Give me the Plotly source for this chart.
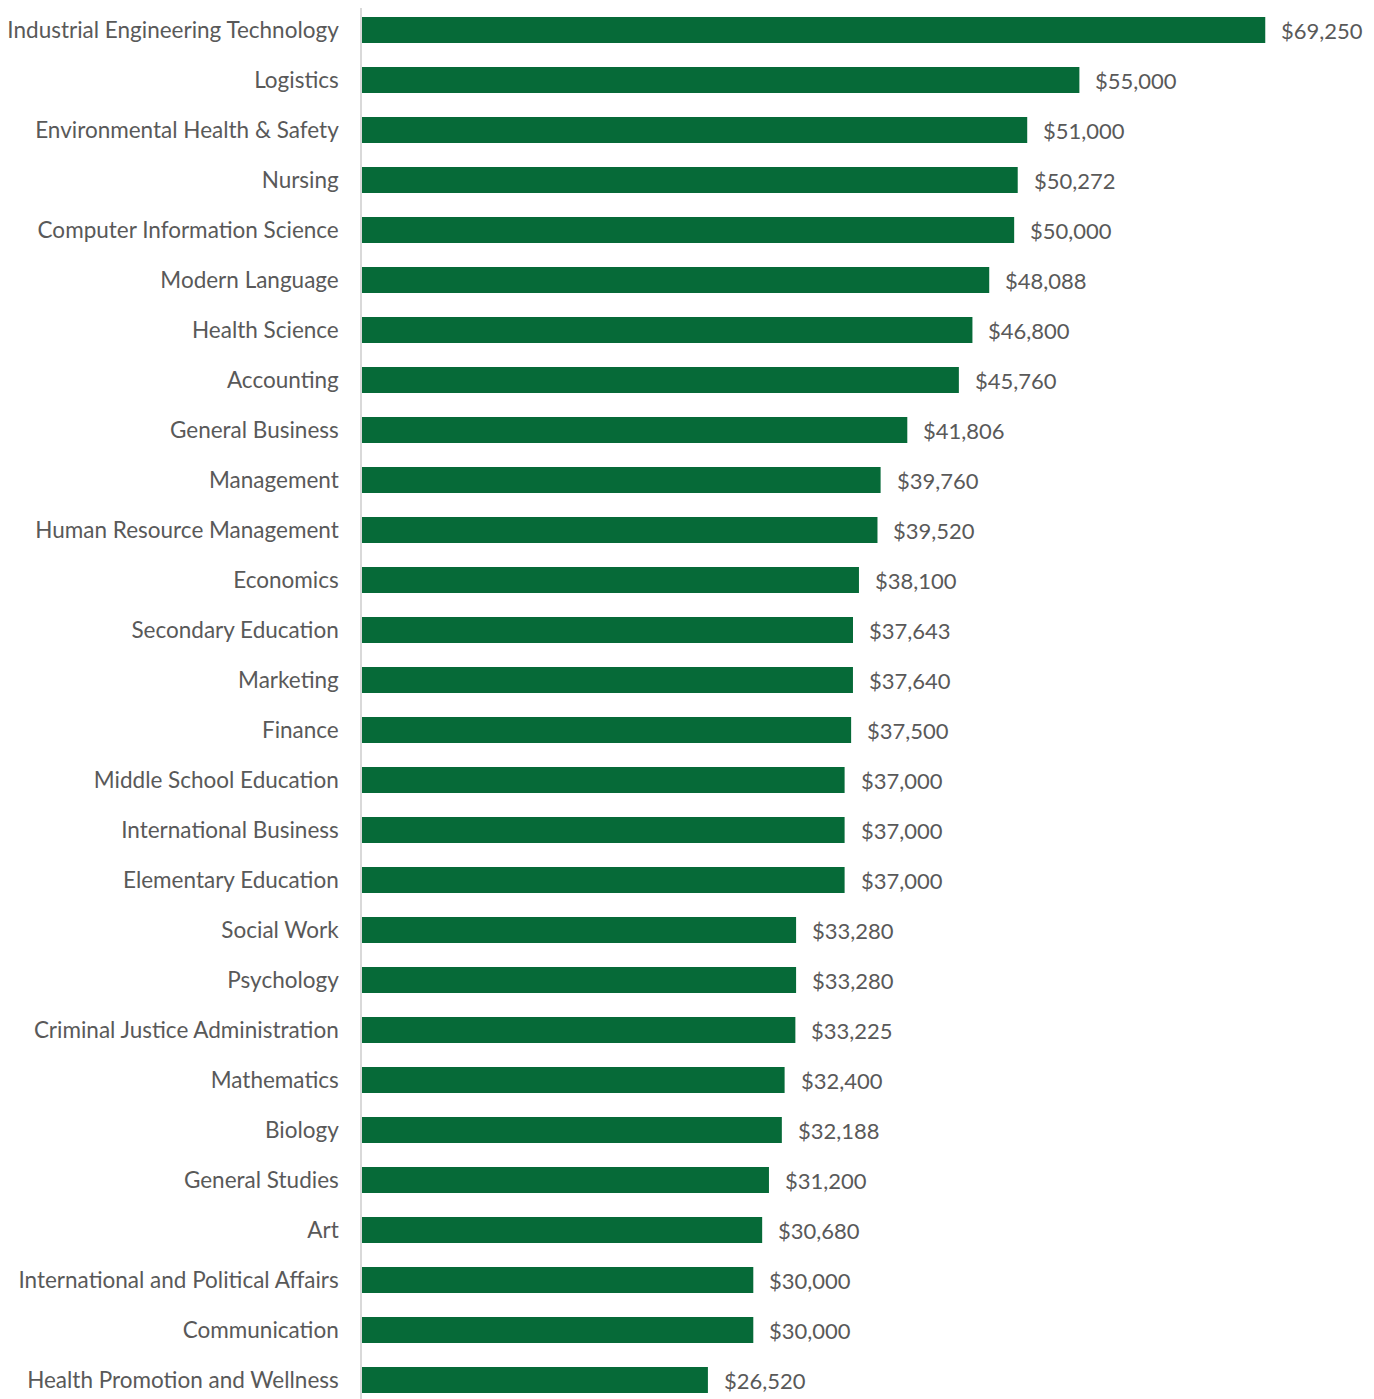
import plotly.graph_objects as go

categories = [
    "Industrial Engineering Technology", "Logistics", "Environmental Health & Safety",
    "Nursing", "Computer Information Science", "Modern Language", "Health Science",
    "Accounting", "General Business", "Management", "Human Resource Management",
    "Economics", "Secondary Education", "Marketing", "Finance", "Middle School Education",
    "International Business", "Elementary Education", "Social Work", "Psychology",
    "Criminal Justice Administration", "Mathematics", "Biology", "General Studies", "Art",
    "International and Political Affairs", "Communication", "Health Promotion and Wellness",
]
salaries = [
    69250, 55000, 51000, 50272, 50000, 48088, 46800, 45760, 41806, 39760, 39520,
    38100, 37643, 37640, 37500, 37000, 37000, 37000, 33280, 33280, 33225, 32400,
    32188, 31200, 30680, 30000, 30000, 26520,
]
value_labels = ["${:,}".format(v) for v in salaries]

GREEN = "#066A38"
GREY = "#595959"
FONT = "Lato"
FSIZE = 22

fig = go.Figure(go.Bar(
    x=salaries, y=categories, orientation="h",
    marker=dict(color=GREEN, line=dict(width=0)),
    width=0.52, hoverinfo="skip",
))

for cat, val, lab in zip(categories, salaries, value_labels):
    fig.add_annotation(
        x=val, y=cat, text=lab, showarrow=False, xanchor="left", yanchor="middle",
        xshift=14, font=dict(family=FONT, size=FSIZE, color=GREY),
    )

fig.update_layout(
    width=1366, height=1391,
    margin=dict(l=354, r=7, t=0, b=0),
    plot_bgcolor="white", paper_bgcolor="white",
    showlegend=False,
    font=dict(family=FONT, size=FSIZE, color=GREY),
    xaxis=dict(range=[0, 77050], visible=False, fixedrange=True),
    yaxis=dict(
        range=[27.38, -0.44], showline=True, linecolor="#D9D9D9", linewidth=1.5,
        showgrid=False, ticks="", ticklabelstandoff=17,
        tickfont=dict(family=FONT, size=22.5, color=GREY),
    ),
)

fig.write_html("out.html")
